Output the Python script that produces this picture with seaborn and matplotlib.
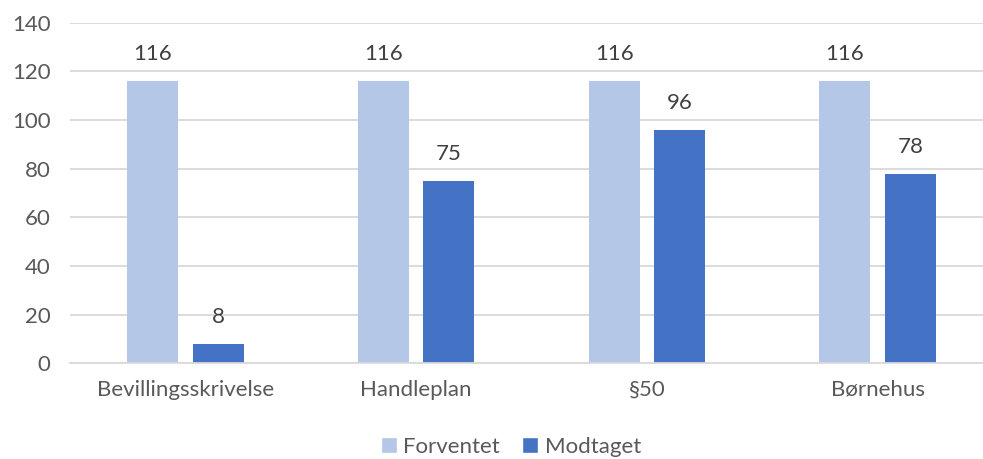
import matplotlib
matplotlib.use("Agg")
import matplotlib.pyplot as plt
import seaborn as sns
import pandas as pd
from matplotlib.patches import Patch

categories = ["Bevillingsskrivelse", "Handleplan", "§50", "Børnehus"]
forventet = [116, 116, 116, 116]
modtaget = [8, 75, 96, 78]
series_names = ["Forventet", "Modtaget"]
colors = ["#B4C7E7", "#4472C4"]
yticks = [0, 20, 40, 60, 80, 100, 120, 140]

df = pd.DataFrame({
    "cat": categories * 2,
    "val": forventet + modtaget,
    "serie": [series_names[0]] * 4 + [series_names[1]] * 4,
})

sns.set_theme(style="white")
plt.rcParams["font.family"] = ["Lato", "DejaVu Sans"]

W, H = 983, 459
fig = plt.figure(figsize=(W / 100, H / 100), dpi=100)
ax = fig.add_axes([70 / W, 1 - 363.3 / H, 923 / W, (363.3 - 22.7) / H])

sns.barplot(data=df, x="cat", y="val", hue="serie", palette=colors,
            width=0.568, gap=0.222, ax=ax, legend=False, saturation=1,
            order=categories, hue_order=series_names, linewidth=0)

ax.set_ylim(0, 140)
ax.set_xlim(-0.5, 3.5)
ax.set_yticks(yticks)
ax.yaxis.grid(True, color="#D9D9D9", linewidth=1.3)
ax.set_axisbelow(True)
for s in ["top", "right", "left"]:
    ax.spines[s].set_visible(False)
ax.spines["bottom"].set_color("#D9D9D9")
ax.spines["bottom"].set_linewidth(1.3)
ax.set_xlabel("")
ax.set_ylabel("")
ax.tick_params(axis="both", length=0, labelsize=16, colors="#595959")
ax.tick_params(axis="y", pad=14)
ax.tick_params(axis="x", pad=12)

for c in ax.containers:
    ax.bar_label(c, padding=12, fontsize=16, color="#404040")

handles = [Patch(facecolor=colors[i], label=series_names[i]) for i in range(2)]
fig.legend(handles=handles, loc="center", bbox_to_anchor=(511 / W, 1 - 447 / H),
           ncol=2, frameon=False, fontsize=16, handlelength=0.7, handleheight=0.7,
           handletextpad=0.3, columnspacing=1.0, labelcolor="#595959")

fig.savefig("out.png", dpi=100)
